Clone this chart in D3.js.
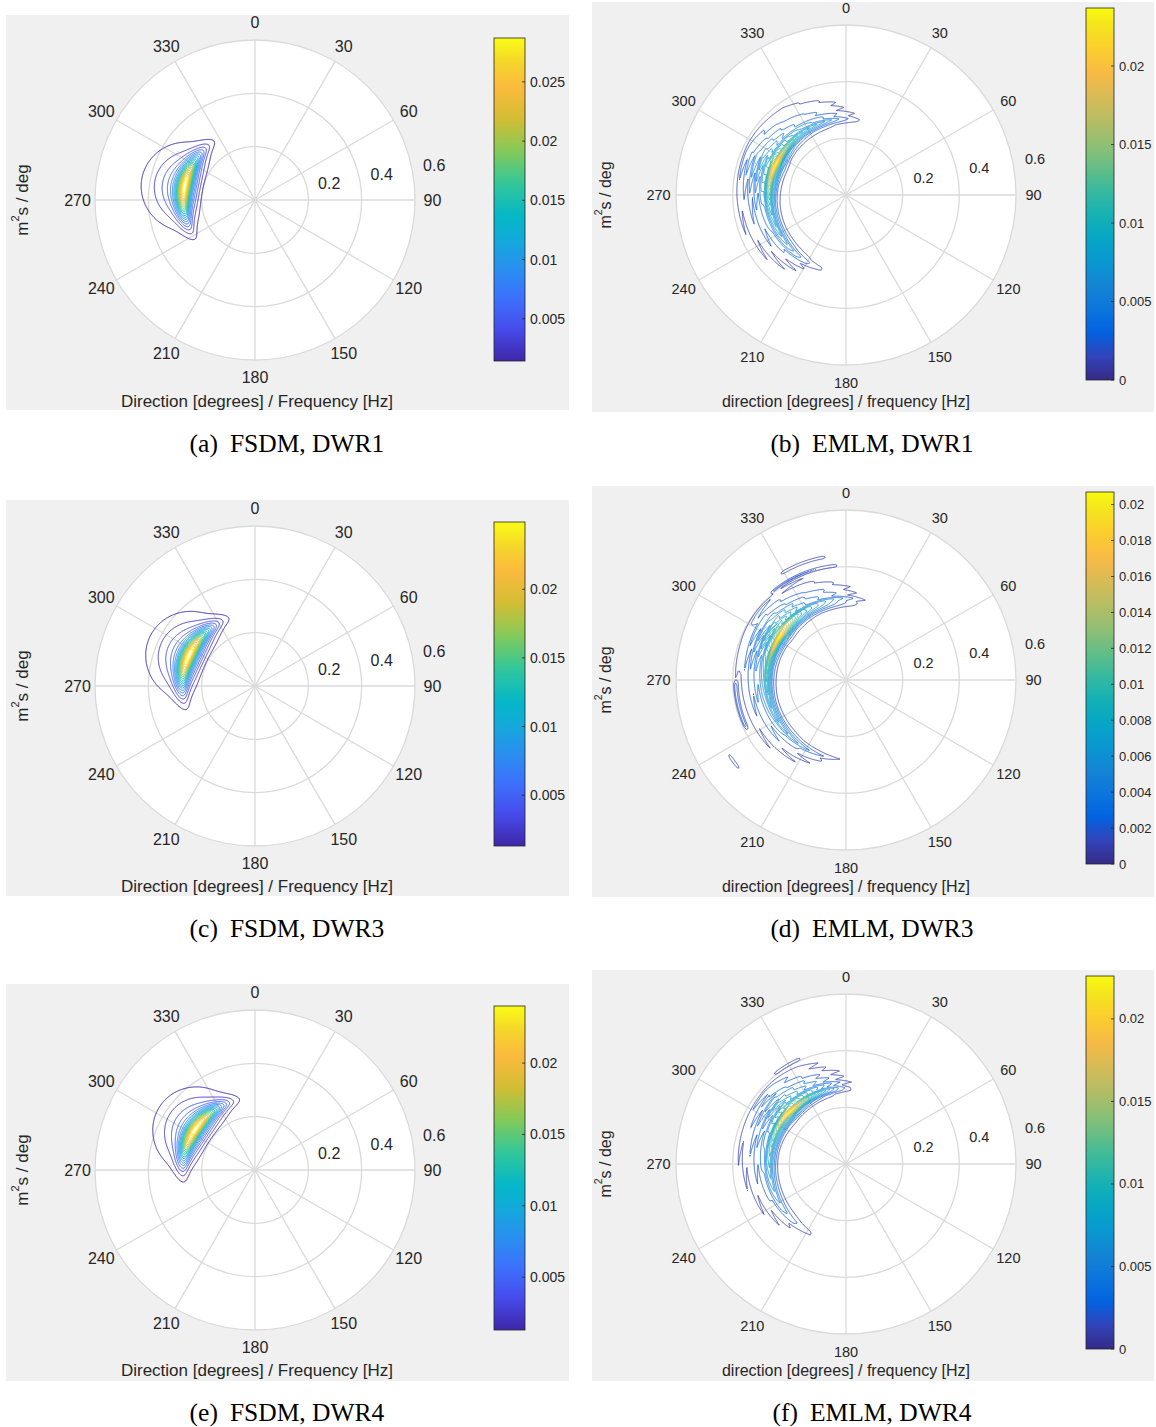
<!DOCTYPE html>
<html>
<head>
<meta charset="utf-8">
<script src="https://cdn.jsdelivr.net/npm/d3@7"></script>
<style>
  body { margin: 0; background: #fff; }
  text { font-family: "Liberation Sans", Arial, Helvetica, sans-serif; fill: #262626; }
  .cap { font-family: "Liberation Serif", "Times New Roman", serif; fill: #000; }
</style>
</head>
<body>
<svg id="fig" width="1156" height="1427"></svg>
<script>
// ---------------- data ----------------
const PANEL_IDS = ["a", "b", "c", "d", "e", "f"];
const PANEL_METHOD = ["FSDM", "EMLM", "FSDM", "EMLM", "FSDM", "EMLM"];
const PANEL_BUOY = ["DWR1", "DWR1", "DWR3", "DWR3", "DWR4", "DWR4"];
const X_LABEL_FSDM = "Direction [degrees] / Frequency [Hz]";
const X_LABEL_EMLM = "direction [degrees] / frequency [Hz]";
const ANGLE_TICKS = [0, 30, 60, 90, 120, 150, 180, 210, 240, 270, 300, 330];
const FREQ_TICKS = [0.2, 0.4, 0.6];
const FREQ_MAX = 0.6;

// colour limits (colorbar range) and contour levels
const CLIM_LO = [0.00144, 0, 0.0013, 0, 0.0013, 0];
const CLIM_HI = [0.0287, 0.0237, 0.0249, 0.0207, 0.0240, 0.0226];
const FIRST_LEVEL = [0.00144, 0.00119, 0.0013, 0.00104, 0.0013, 0.00113];
const N_LEVELS = 20;

const CBAR_TICKS_A = [0.005, 0.01, 0.015, 0.02, 0.025];
const CBAR_TICKS_B = [0, 0.005, 0.01, 0.015, 0.02];
const CBAR_TICKS_C = [0.005, 0.01, 0.015, 0.02];
const CBAR_TICKS_D = [0, 0.002, 0.004, 0.006, 0.008, 0.01, 0.012, 0.014, 0.016, 0.018, 0.02];
const CBAR_TICKS_E = [0.005, 0.01, 0.015, 0.02];
const CBAR_TICKS_F = [0, 0.005, 0.01, 0.015, 0.02];

// FSDM spectra (DWR1, DWR3, DWR4): JONSWAP-type frequency part x cos-2s spreading
const FSDM_PEAK_FREQ = [0.268, 0.272, 0.270];
const FSDM_MEAN_DIR = [281, 295, 304];
const FSDM_SPREAD_S = [20, 20, 20];
const FSDM_GAMMA = [3.3, 3.3, 3.3];
const FSDM_TAIL = [7, 7, 7];
const FSDM_PEAK_DENSITY = [0.0302, 0.0262, 0.0252];

// EMLM spectra: frequency profile, per-bin mean direction, directional profile
const EMLM_FREQ = [0.20, 0.21, 0.22, 0.23, 0.24, 0.25, 0.26, 0.27, 0.28, 0.29, 0.30,
                   0.31, 0.32, 0.33, 0.34, 0.35, 0.36, 0.37, 0.38, 0.39, 0.40,
                   0.41, 0.42, 0.43, 0.44, 0.45, 0.46, 0.47, 0.48, 0.49, 0.50];
const EMLM_DIR_OFFSET = [-100, -90, -80, -70, -60, -50, -40, -30, -20, -10, 0,
                         10, 20, 30, 40, 50, 60, 70, 80, 90, 100];

const EMLM_S_DWR1 = [0, 0.01, 0.03, 0.07, 0.15, 0.30, 0.60, 1.00, 0.70, 0.48, 0.38,
                     0.30, 0.32, 0.22, 0.24, 0.16, 0.17, 0.12, 0.13, 0.05, 0,
                     0, 0, 0, 0, 0, 0, 0, 0, 0, 0];
const EMLM_S_DWR3 = [0, 0, 0.01, 0.03, 0.06, 0.14, 0.32, 0.65, 1.00, 0.72, 0.50,
                     0.38, 0.40, 0.28, 0.29, 0.18, 0.19, 0.12, 0.10, 0.12, 0.04,
                     0, 0, 0, 0, 0, 0, 0, 0, 0, 0];
const EMLM_S_DWR4 = [0, 0, 0.02, 0.05, 0.12, 0.30, 0.62, 1.00, 0.74, 0.50, 0.40,
                     0.30, 0.32, 0.22, 0.23, 0.15, 0.16, 0.12, 0.13, 0.05, 0,
                     0, 0, 0, 0, 0, 0, 0, 0, 0, 0];

const EMLM_MEAN_DIR_DWR1 = [284, 281, 288, 280, 287, 282, 287, 284, 279, 289, 280,
                            290, 280, 291, 279, 289, 278, 290, 280, 288, 284,
                            284, 284, 284, 284, 284, 284, 284, 284, 284, 284];
const EMLM_MEAN_DIR_DWR3 = [277, 274, 281, 273, 280, 275, 280, 277, 272, 282, 273,
                            283, 273, 284, 272, 282, 271, 283, 273, 281, 277,
                            277, 277, 277, 277, 277, 277, 277, 277, 277, 277];
const EMLM_MEAN_DIR_DWR4 = [283, 280, 287, 279, 286, 281, 286, 283, 278, 288, 279,
                            289, 279, 290, 278, 288, 277, 289, 279, 287, 283,
                            283, 283, 283, 283, 283, 283, 283, 283, 283, 283];

const EMLM_D_DWR1 = [0, 0.03, 0.07, 0.13, 0.20, 0.27, 0.33, 0.38, 0.45, 0.58, 0.78,
                     1.00, 0.75, 0.52, 0.40, 0.32, 0.24, 0.15, 0.08, 0.03, 0];
const EMLM_D_DWR3 = [0.01, 0.04, 0.08, 0.12, 0.17, 0.22, 0.27, 0.31, 0.35, 0.40, 0.46,
                     0.56, 0.80, 1.00, 0.70, 0.48, 0.36, 0.26, 0.16, 0.08, 0.02];
const EMLM_D_DWR4 = [0, 0.01, 0.03, 0.07, 0.11, 0.16, 0.21, 0.26, 0.31, 0.37, 0.44,
                     0.54, 0.72, 1.00, 0.72, 0.50, 0.32, 0.16, 0.05, 0.01, 0];

// isolated arcs: [frequency, direction from, direction to, relative level]
const EMLM_ARCS_DWR1 = [];
const EMLM_ARCS_DWR3 = [[0.44, 327, 352, 0.09], [0.405, 318, 357, 0.09],
                        [0.39, 243, 270, 0.09], [0.49, 229, 239, 0.09]];
const EMLM_ARCS_DWR4 = [[0.405, 320, 338, 0.09]];

const EMLM_PEAK_DENSITY = [0.0249, 0.0217, 0.0237];

// parula colour maps (older 64-entry version and newer version)
const PARULA_OLD = [
  [0.2081, 0.1663, 0.5292], [0.1959, 0.2645, 0.7279], [0.0117, 0.3875, 0.8820],
  [0.0498, 0.4586, 0.8641], [0.0793, 0.5200, 0.8312], [0.0343, 0.5966, 0.8199],
  [0.0228, 0.6535, 0.7768], [0.0843, 0.6928, 0.7062], [0.2178, 0.7250, 0.6193],
  [0.3953, 0.7459, 0.5244], [0.5709, 0.7485, 0.4494], [0.7184, 0.7411, 0.3905],
  [0.8507, 0.7299, 0.3360], [0.9739, 0.7314, 0.2666], [0.9880, 0.8066, 0.1794],
  [0.9589, 0.8949, 0.1132], [0.9763, 0.9831, 0.0538]];
const PARULA_OLD_POS = [0, 4, 8, 12, 16, 20, 24, 28, 32, 36, 40, 44, 48, 52, 56, 60, 63].map(i => i / 63);
const PARULA_NEW = [
  [0.2422, 0.1504, 0.6603], [0.2780, 0.3000, 0.9300], [0.2340, 0.4500, 0.9900],
  [0.1500, 0.5800, 0.9300], [0.0500, 0.6900, 0.8300], [0.0200, 0.7200, 0.7800],
  [0.2000, 0.7800, 0.6000], [0.5200, 0.7900, 0.3500], [0.8300, 0.7400, 0.2000],
  [0.9900, 0.7300, 0.2400], [0.9600, 0.8300, 0.1700], [0.9769, 0.9839, 0.0805]];
const PARULA_NEW_POS = [0, 0.1, 0.2, 0.3, 0.4, 0.45, 0.55, 0.65, 0.75, 0.85, 0.92, 1];

// ---------------- layout ----------------
const LAYOUT = [
  {bx: 6,   by: 15,  bw: 563, bh: 395, cx: 255, cy: 200,  R: 160, cb: [494, 38, 31, 323],   ylx: 22,  xly: 407,  capx: 287, capy: 452},
  {bx: 592, by: 2,   bw: 562, bh: 410, cx: 846, cy: 195,  R: 170, cb: [1086, 8, 28, 372],   ylx: 605, xly: 407,  capx: 872, capy: 452},
  {bx: 6,   by: 500, bw: 563, bh: 396, cx: 255, cy: 686,  R: 160, cb: [494, 522, 31, 324],  ylx: 22,  xly: 892,  capx: 287, capy: 937},
  {bx: 592, by: 486, bw: 562, bh: 411, cx: 846, cy: 680,  R: 170, cb: [1086, 492, 28, 372], ylx: 605, xly: 892,  capx: 872, capy: 937},
  {bx: 6,   by: 984, bw: 563, bh: 397, cx: 255, cy: 1170, R: 160, cb: [494, 1006, 31, 324], ylx: 22,  xly: 1376, capx: 287, capy: 1421},
  {bx: 592, by: 970, bw: 562, bh: 411, cx: 846, cy: 1164, R: 170, cb: [1086, 976, 28, 373], ylx: 605, xly: 1376, capx: 872, capy: 1421}
];
const CBAR_TICKS = [CBAR_TICKS_A, CBAR_TICKS_B, CBAR_TICKS_C, CBAR_TICKS_D, CBAR_TICKS_E, CBAR_TICKS_F];
const EMLM_S = [EMLM_S_DWR1, EMLM_S_DWR3, EMLM_S_DWR4];
const EMLM_MD = [EMLM_MEAN_DIR_DWR1, EMLM_MEAN_DIR_DWR3, EMLM_MEAN_DIR_DWR4];
const EMLM_D = [EMLM_D_DWR1, EMLM_D_DWR3, EMLM_D_DWR4];
const EMLM_ARCS = [EMLM_ARCS_DWR1, EMLM_ARCS_DWR3, EMLM_ARCS_DWR4];

// ---------------- helpers ----------------
function makeColormap(stops, pos) {
  const s = d3.scaleLinear().domain(pos)
    .range(stops.map(c => d3.rgb(c[0] * 255, c[1] * 255, c[2] * 255)))
    .interpolate(d3.interpolateRgb).clamp(true);
  return t => s(t);
}
const parulaOld = makeColormap(PARULA_OLD, PARULA_OLD_POS);
const parulaNew = makeColormap(PARULA_NEW, PARULA_NEW_POS);

const wrap180 = a => ((a % 360) + 540) % 360 - 180;

function fsdmField(k) {
  const fp = FSDM_PEAK_FREQ[k], n = FSDM_TAIL[k], g = FSDM_GAMMA[k];
  const s2 = 2 * FSDM_SPREAD_S[k], th0 = FSDM_MEAN_DIR[k], emax = FSDM_PEAK_DENSITY[k];
  const norm = Math.exp(-n / 4) * g;
  return (f, th) => {
    if (f < 0.08) return 0;
    const x = fp / f;
    const sig = f <= fp ? 0.07 : 0.09;
    const pm = Math.pow(x, n) * Math.exp(-n / 4 * Math.pow(x, 4));
    const pk = Math.pow(g, Math.exp(-((f - fp) ** 2) / (2 * sig * sig * fp * fp)));
    const d = wrap180(th - th0) * Math.PI / 180;
    const D = Math.pow(Math.cos(d / 2), s2);
    return emax * pm * pk / norm * D;
  };
}

function emlmField(k) {
  const sS = d3.scaleLinear().domain(EMLM_FREQ).range(EMLM_S[k]).clamp(true);
  const sM = d3.scaleLinear().domain(EMLM_FREQ).range(EMLM_MD[k]).clamp(true);
  const sD = d3.scaleLinear().domain(EMLM_DIR_OFFSET).range(EMLM_D[k]).clamp(true);
  const arcs = EMLM_ARCS[k], emax = EMLM_PEAK_DENSITY[k];
  return (f, th) => {
    let v = 0;
    const S = sS(f);
    if (S > 0) v += S * sD(wrap180(th - sM(f)));
    for (const a of arcs) {
      const gf = Math.exp(-0.5 * ((f - a[0]) / 0.004) ** 2);
      if (gf < 1e-3) continue;
      const span = wrap180(a[2] - a[1]);
      const rel = wrap180(th - a[1]);
      const w = Math.max(0, Math.min(1, rel / 3, (span - rel) / 3));
      v += a[3] * gf * w;
    }
    return emax * v;
  };
}

// ---------------- drawing ----------------
const svg = d3.select("#fig");
const defs = svg.append("defs");
let fsdmIdx = 0, emlmIdx = 0;

PANEL_IDS.forEach((id, p) => {
  const L = LAYOUT[p];
  const isF = PANEL_METHOD[p] === "FSDM";
  const cmap = isF ? parulaNew : parulaOld;
  const field = isF ? fsdmField(fsdmIdx++) : emlmField(emlmIdx++);
  const g = svg.append("g");
  const rScale = d3.scaleLinear().domain([0, FREQ_MAX]).range([0, L.R]);
  const pt = (deg, r) => [L.cx + r * Math.sin(deg * Math.PI / 180), L.cy - r * Math.cos(deg * Math.PI / 180)];
  const tickFont = isF ? 16 : 14.5;

  g.append("rect").attr("x", L.bx).attr("y", L.by).attr("width", L.bw).attr("height", L.bh).attr("fill", "#f0f0f0");
  g.append("circle").attr("cx", L.cx).attr("cy", L.cy).attr("r", L.R).attr("fill", "#fff");

  // polar grid
  const grid = g.append("g").attr("stroke", "#dadada").attr("stroke-width", 1.3).attr("fill", "none");
  FREQ_TICKS.forEach(v => grid.append("circle").attr("cx", L.cx).attr("cy", L.cy).attr("r", rScale(v)));
  ANGLE_TICKS.forEach(a => {
    const [x, y] = pt(a, L.R);
    grid.append("line").attr("x1", L.cx).attr("y1", L.cy).attr("x2", x).attr("y2", y);
  });

  // contour lines
  const clo = CLIM_LO[p], chi = CLIM_HI[p];
  const levels = d3.range(N_LEVELS).map(i => FIRST_LEVEL[p] + i * (chi - FIRST_LEVEL[p]) / (N_LEVELS - 1));
  const color = d3.scaleLinear().domain([clo, chi]).range([0, 1]).clamp(true);
  const step = 0.5;
  const x0 = -L.R, x1 = 0.4 * L.R, y0 = -L.R, y1 = L.R;
  const nx = Math.ceil((x1 - x0) / step) + 1, ny = Math.ceil((y1 - y0) / step) + 1;
  const vals = new Float64Array(nx * ny);
  for (let j = 0; j < ny; j++) {
    const y = y0 + j * step;
    for (let i = 0; i < nx; i++) {
      const x = x0 + i * step;
      const r = Math.hypot(x, y);
      if (r >= L.R) { vals[j * nx + i] = 0; continue; }
      const f = rScale.invert(r);
      let th = Math.atan2(x, -y) * 180 / Math.PI;
      if (th < 0) th += 360;
      vals[j * nx + i] = field(f, th);
    }
  }
  const contours = d3.contours().size([nx, ny]).thresholds(levels)(vals);
  const proj = d3.geoTransform({
    point(px, py) { this.stream.point(L.cx + x0 + (px - 0.5) * step, L.cy + y0 + (py - 0.5) * step); }
  });
  const path = d3.geoPath(proj);
  g.append("g").selectAll("path").data(contours).join("path")
    .attr("d", path).attr("fill", "none")
    .attr("stroke", d => cmap(color(d.value)))
    .attr("stroke-width", isF ? 1.0 : 0.85)
    .attr("stroke-linejoin", "round");

  // angle labels
  ANGLE_TICKS.forEach(a => {
    const [x, y] = pt(a, L.R + 17.5);
    g.append("text").attr("x", x).attr("y", y).attr("text-anchor", "middle")
      .attr("dominant-baseline", "central").attr("font-size", tickFont).text(a);
  });
  // radial labels
  FREQ_TICKS.forEach(v => {
    const [x, y] = pt(80, rScale(v) + 22);
    g.append("text").attr("x", x).attr("y", y - 3).attr("text-anchor", "middle")
      .attr("dominant-baseline", "central").attr("font-size", tickFont).text(v);
  });

  // axis labels
  g.append("text").attr("x", L.cx + (isF ? 2 : 0)).attr("y", L.xly).attr("text-anchor", "middle")
    .attr("font-size", isF ? 17 : 16).text(isF ? X_LABEL_FSDM : X_LABEL_EMLM);
  const yl = g.append("text").attr("transform", `translate(${L.ylx},${L.cy}) rotate(-90)`)
    .attr("text-anchor", "middle").attr("dominant-baseline", "central").attr("font-size", isF ? 17 : 16);
  yl.append("tspan").text("m");
  yl.append("tspan").attr("font-size", isF ? 11 : 10.5).attr("dy", -7).text("2");
  yl.append("tspan").attr("dy", 7).text("s / deg");

  // colorbar
  const [cbx, cby, cbw, cbh] = L.cb;
  const gid = "cbar-" + id;
  const grad = defs.append("linearGradient").attr("id", gid)
    .attr("x1", 0).attr("y1", 1).attr("x2", 0).attr("y2", 0);
  d3.range(0, 1.0001, 1 / 64).forEach(t => grad.append("stop").attr("offset", t).attr("stop-color", cmap(t)));
  g.append("rect").attr("x", cbx).attr("y", cby).attr("width", cbw).attr("height", cbh)
    .attr("fill", `url(#${gid})`).attr("stroke", "#262626").attr("stroke-width", 0.8);
  const cy = d3.scaleLinear().domain([clo, chi]).range([cby + cbh, cby]);
  CBAR_TICKS[p].forEach(v => {
    const y = cy(v);
    g.append("line").attr("x1", cbx + cbw - 3).attr("x2", cbx + cbw).attr("y1", y).attr("y2", y)
      .attr("stroke", "#262626").attr("stroke-width", 0.8);
    g.append("text").attr("x", cbx + cbw + 5).attr("y", y).attr("dominant-baseline", "central")
      .attr("font-size", isF ? 14 : 13).text(String(+v.toFixed(4)));
  });

  // sub-caption
  const cap = g.append("text").attr("class", "cap").attr("x", L.capx).attr("y", L.capy)
    .attr("text-anchor", "middle").attr("font-size", 25.5);
  cap.append("tspan").text(`(${id})`);
  cap.append("tspan").attr("dx", 12).text(`${PANEL_METHOD[p]}, ${PANEL_BUOY[p]}`);
});
</script>
</body>
</html>
